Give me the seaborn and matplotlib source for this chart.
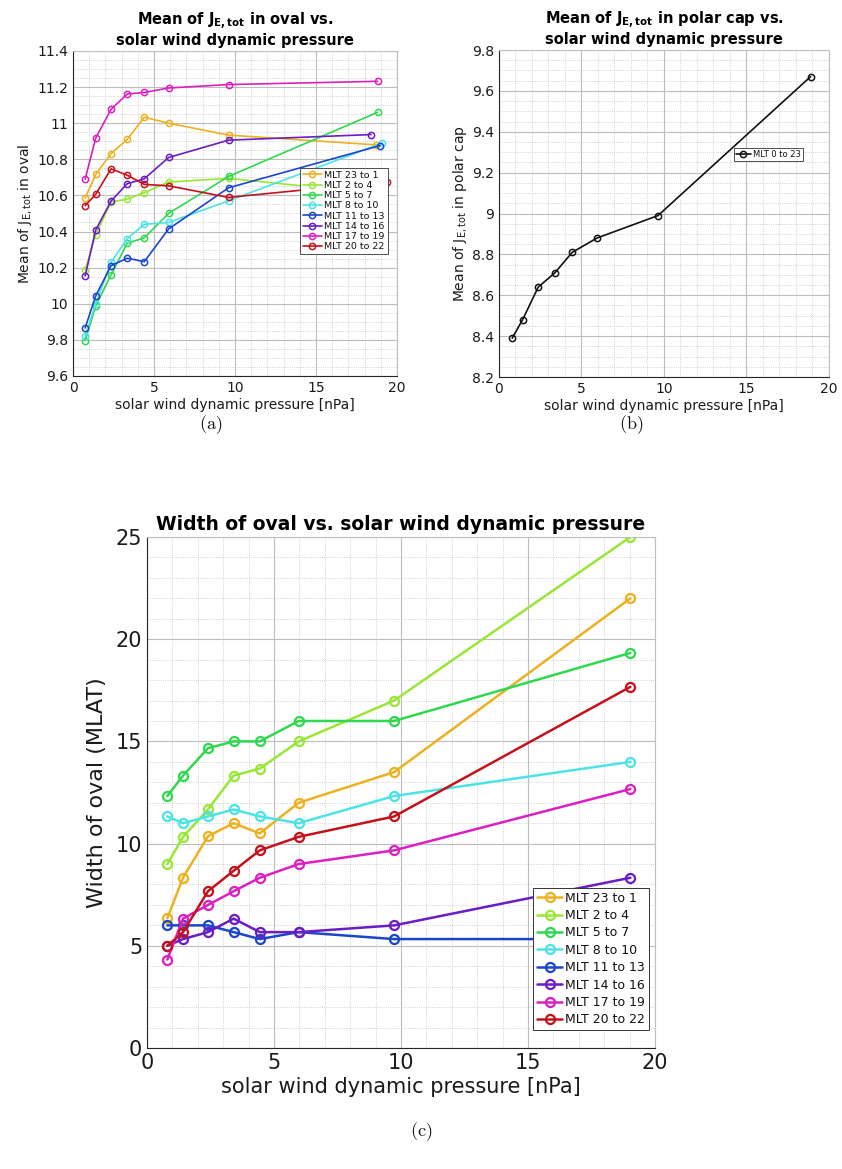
import numpy as np
import pandas as pd
import matplotlib
matplotlib.use("Agg")
import matplotlib.pyplot as plt
from matplotlib.ticker import MultipleLocator, FormatStrFormatter
import seaborn as sns

sns.set_style("white")
plt.rcParams["font.family"] = ["DejaVu Sans"]
plt.rcParams["text.color"] = "#111111"
plt.rcParams["axes.labelcolor"] = "#1a1a1a"

# MLT sectors and their colours
mlt_labels = ["MLT 23 to 1", "MLT 2 to 4", "MLT 5 to 7", "MLT 8 to 10",
              "MLT 11 to 13", "MLT 14 to 16", "MLT 17 to 19", "MLT 20 to 22"]
mlt_colors = ["#EDB120", "#98E636", "#2FD84E", "#4CE3E6",
              "#1A47C9", "#6A1CC6", "#DC1FC0", "#C4121C"]

# (a) mean J_E,tot in oval
p_oval = [0.75, 1.4, 2.35, 3.35, 4.4, 5.9, 9.6]
p_oval_last = [18.7, 18.9, 18.8, 19.1, 18.95, 18.4, 18.8, 19.4]
je_oval_23_1 = [10.585, 10.716, 10.832, 10.91, 11.033, 11.0, 10.934, 10.88]
je_oval_2_4 = [10.187, 10.382, 10.563, 10.58, 10.615, 10.674, 10.694, 10.61]
je_oval_5_7 = [9.795, 9.987, 10.16, 10.335, 10.365, 10.5, 10.705, 11.06]
je_oval_8_10 = [9.82, 10.0, 10.23, 10.36, 10.44, 10.45, 10.57, 10.89]
je_oval_11_13 = [9.866, 10.043, 10.211, 10.252, 10.233, 10.414, 10.642, 10.876]
je_oval_14_16 = [10.154, 10.408, 10.569, 10.665, 10.692, 10.81, 10.906, 10.937]
je_oval_17_19 = [10.69, 10.917, 11.077, 11.162, 11.17, 11.195, 11.214, 11.232]
je_oval_20_22 = [10.543, 10.606, 10.747, 10.712, 10.661, 10.653, 10.589, 10.676]

# (b) mean J_E,tot in polar cap
p_cap = [0.8, 1.43, 2.38, 3.39, 4.44, 5.94, 9.64, 18.89]
je_cap = [8.39, 8.48, 8.64, 8.71, 8.81, 8.88, 8.99, 9.67]

# (c) width of oval
p_width = [0.8, 1.42, 2.4, 3.41, 4.44, 5.97, 9.73, 19.03]
width_23_1 = [6.35, 8.34, 10.36, 11.0, 10.5, 12.0, 13.5, 22.0]
width_2_4 = [9.0, 10.33, 11.67, 13.33, 13.67, 15.0, 17.0, 25.0]
width_5_7 = [12.33, 13.33, 14.67, 15.0, 15.0, 16.0, 16.0, 19.33]
width_8_10 = [11.33, 11.0, 11.33, 11.67, 11.33, 11.0, 12.33, 14.0]
width_11_13 = [6.0, 6.0, 6.0, 5.67, 5.33, 5.67, 5.33, 5.33]
width_14_16 = [5.0, 5.33, 5.67, 6.33, 5.67, 5.67, 6.0, 8.33]
width_17_19 = [4.33, 6.33, 7.0, 7.67, 8.33, 9.0, 9.67, 12.67]
width_20_22 = [5.0, 5.67, 7.67, 8.67, 9.67, 10.33, 11.33, 17.67]

je_oval = [je_oval_23_1, je_oval_2_4, je_oval_5_7, je_oval_8_10,
           je_oval_11_13, je_oval_14_16, je_oval_17_19, je_oval_20_22]
widths = [width_23_1, width_2_4, width_5_7, width_8_10,
          width_11_13, width_14_16, width_17_19, width_20_22]

rows = []
for lab, ys, last in zip(mlt_labels, je_oval, p_oval_last):
    for x, y in zip(p_oval + [last], ys):
        rows.append((lab, x, y))
df_oval = pd.DataFrame(rows, columns=["mlt", "p", "v"])

rows = []
for lab, ys in zip(mlt_labels, widths):
    for x, y in zip(p_width, ys):
        rows.append((lab, x, y))
df_width = pd.DataFrame(rows, columns=["mlt", "p", "v"])

df_cap = pd.DataFrame({"mlt": "MLT 0 to 23", "p": p_cap, "v": je_cap})


def style_axes(ax, ymin, ymax, ymajor, yminor, fs):
    ax.set_xlim(0, 20)
    ax.set_ylim(ymin, ymax)
    ax.xaxis.set_major_locator(MultipleLocator(5))
    ax.xaxis.set_minor_locator(MultipleLocator(1))
    ax.yaxis.set_major_locator(MultipleLocator(ymajor))
    ax.yaxis.set_minor_locator(MultipleLocator(yminor))
    ax.yaxis.set_major_formatter(FormatStrFormatter("%g"))
    ax.grid(which="major", color="#bdbdbd", linewidth=0.8, linestyle="-")
    ax.grid(which="minor", color="#c4c4c4", linewidth=0.6, linestyle=":")
    ax.set_axisbelow(True)
    ax.tick_params(which="major", direction="in", length=3, labelsize=fs,
                   colors="#1a1a1a", width=0.6)
    ax.tick_params(which="minor", length=0)
    for s in ["left", "bottom"]:
        ax.spines[s].set_color("#262626")
        ax.spines[s].set_linewidth(0.8)
    for s in ["top", "right"]:
        ax.spines[s].set_color("#c0c0c0")
        ax.spines[s].set_linewidth(0.8)


def draw_lines(ax, df, palette, lw, ms):
    sns.lineplot(data=df, x="p", y="v", hue="mlt", palette=palette,
                 hue_order=list(palette.keys()), estimator=None, sort=False,
                 marker="o", markersize=ms, markerfacecolor="none",
                 markeredgewidth=lw * 0.9, linewidth=lw, legend=False, ax=ax)
    for ln in ax.lines:
        ln.set_markeredgecolor(ln.get_color())
        ln.set_markerfacecolor("none")
    return ax.lines


fig = plt.figure(figsize=(8.42, 11.69), dpi=100)
pal = dict(zip(mlt_labels, mlt_colors))

# ---- (a)
ax_a = fig.add_axes([0.0867, 0.6784, 0.3848, 0.278])
lines_a = draw_lines(ax_a, df_oval, pal, 1.2, 4.5)
style_axes(ax_a, 9.6, 11.4, 0.2, 0.05, 10)
ax_a.set_title("Mean of J$_{\\mathbf{E,tot}}$ in oval vs.\nsolar wind dynamic pressure",
               fontsize=10.5, fontweight="bold", pad=4, linespacing=1.15, color="black")
ax_a.set_xlabel("solar wind dynamic pressure [nPa]", fontsize=10, labelpad=2)
ax_a.set_ylabel("Mean of J$_{\\mathrm{E,tot}}$ in oval", fontsize=10, labelpad=2)
leg = ax_a.legend(lines_a, mlt_labels, loc="upper left", bbox_to_anchor=(0.70, 0.64),
                  fontsize=6.8, labelspacing=0.13, handlelength=2.0, handletextpad=0.3,
                  borderpad=0.3, borderaxespad=0, fancybox=False, framealpha=1)
leg.get_frame().set_edgecolor("#333333")
leg.get_frame().set_linewidth(0.6)

# ---- (b)
ax_b = fig.add_axes([0.5926, 0.6775, 0.3919, 0.2797])
lines_b = draw_lines(ax_b, df_cap, {"MLT 0 to 23": "#111111"}, 1.2, 4.5)
style_axes(ax_b, 8.2, 9.8, 0.2, 0.05, 10)
ax_b.set_title("Mean of J$_{\\mathbf{E,tot}}$ in polar cap vs.\nsolar wind dynamic pressure",
               fontsize=10.5, fontweight="bold", pad=4, linespacing=1.15, color="black")
ax_b.set_xlabel("solar wind dynamic pressure [nPa]", fontsize=10, labelpad=2)
ax_b.set_ylabel("Mean of J$_{\\mathrm{E,tot}}$ in polar cap", fontsize=10, labelpad=2)
leg = ax_b.legend(lines_b, ["MLT 0 to 23"], loc="upper left", bbox_to_anchor=(0.712, 0.70),
                  fontsize=6, handlelength=1.8, handletextpad=0.2, borderpad=0.25,
                  borderaxespad=0, fancybox=False, framealpha=1)
leg.get_frame().set_edgecolor("#333333")
leg.get_frame().set_linewidth(0.6)

# ---- (c)
ax_c = fig.add_axes([0.1746, 0.1035, 0.6033, 0.4371])
lines_c = draw_lines(ax_c, df_width, pal, 1.8, 6.5)
style_axes(ax_c, 0, 25, 5, 1, 15)
ax_c.set_title("Width of oval vs. solar wind dynamic pressure",
               fontsize=13.5, fontweight="bold", pad=5, color="black")
ax_c.set_xlabel("solar wind dynamic pressure [nPa]", fontsize=15, labelpad=3)
ax_c.set_ylabel("Width of oval (MLAT)", fontsize=16, labelpad=6)
leg = ax_c.legend(lines_c, mlt_labels, loc="lower right", bbox_to_anchor=(0.988, 0.035),
                  fontsize=9, labelspacing=0.35, handlelength=2.0, handletextpad=0.25,
                  borderpad=0.3, borderaxespad=0, fancybox=False, framealpha=1)
leg.get_frame().set_edgecolor("#333333")
leg.get_frame().set_linewidth(0.7)

# sub-figure captions
for x, y, t in [(0.25, 0.6365, "(a)"), (0.75, 0.6365, "(b)"), (0.5, 0.032, "(c)")]:
    fig.text(x, y, "$\\mathrm{" + t + "}$", math_fontfamily="cm", fontsize=13,
             ha="center", va="center")

fig.savefig("out.png", dpi=100)
